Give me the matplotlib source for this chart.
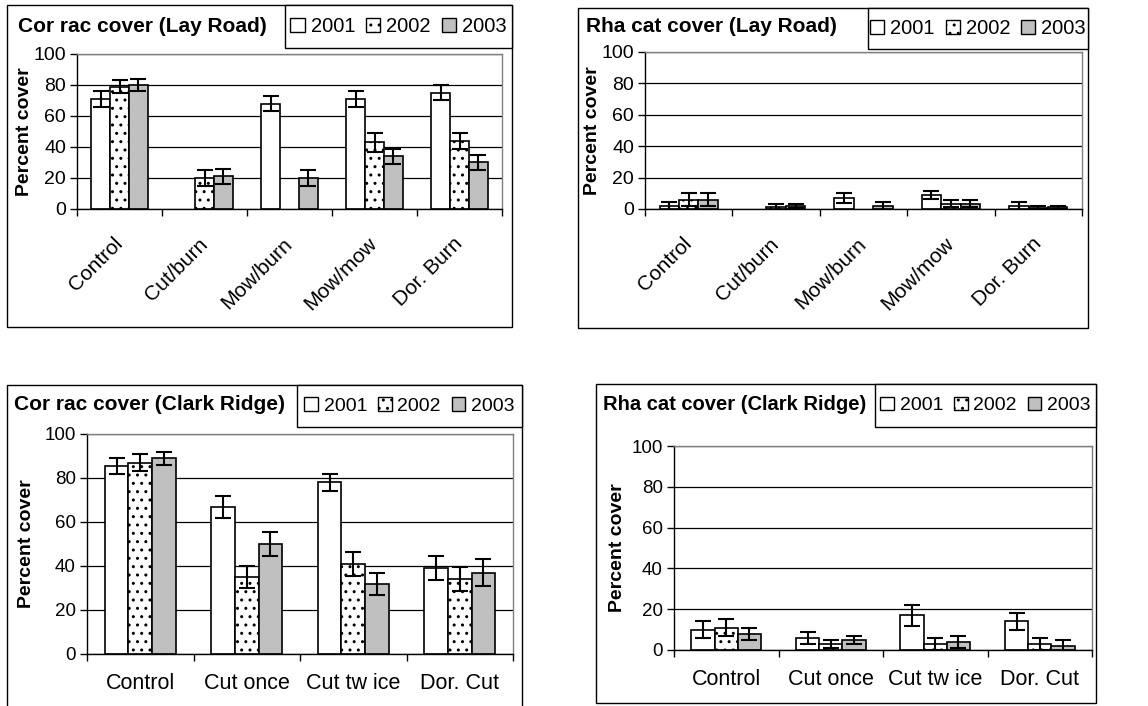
import numpy as np
import matplotlib
matplotlib.use("Agg")
import matplotlib.pyplot as plt
from matplotlib.patches import Rectangle, Patch

plt.rcParams["font.family"] = ["Liberation Sans", "DejaVu Sans"]
plt.rcParams["hatch.linewidth"] = 1.0

W, H = 1148, 706

years = ["2001", "2002", "2003"]
lay_categories = ["Control", "Cut/burn", "Mow/burn", "Mow/mow", "Dor. Burn"]
clark_categories = ["Control", "Cut once", "Cut tw ice", "Dor. Cut"]

# Cor rac cover, Lay Road (mean and error per year)
corrac_lay_2001 = [71, np.nan, 68, 71, 75]
corrac_lay_2002 = [79, 20, np.nan, 43, 44]
corrac_lay_2003 = [80, 21, 20, 34, 30]
corrac_lay_err_2001 = [5, np.nan, 5, 5, 5]
corrac_lay_err_2002 = [4, 5, np.nan, 6, 5]
corrac_lay_err_2003 = [4, 5, 5, 5, 5]

# Rha cat cover, Lay Road
rhacat_lay_2001 = [2, np.nan, 7, 9, 2]
rhacat_lay_2002 = [6, 1, np.nan, 3.5, 0.5]
rhacat_lay_2003 = [6, 2, 2, 3.5, 1]
rhacat_lay_err_2001 = [2.5, np.nan, 3, 2.5, 2.5]
rhacat_lay_err_2002 = [4, 2, np.nan, 2.5, 1.5]
rhacat_lay_err_2003 = [4, 1.5, 2.5, 2.5, 1]

# Cor rac cover, Clark Ridge
corrac_clark_2001 = [85.5, 67, 78, 39]
corrac_clark_2002 = [87, 35, 41, 34]
corrac_clark_2003 = [89, 50, 32, 37]
corrac_clark_err_2001 = [3.5, 5, 4, 5.5]
corrac_clark_err_2002 = [4, 5, 5.5, 5.5]
corrac_clark_err_2003 = [3, 5.5, 5, 6]

# Rha cat cover, Clark Ridge
rhacat_clark_2001 = [10, 6, 17, 14]
rhacat_clark_2002 = [11, 3, 3, 3]
rhacat_clark_2003 = [8, 5, 4, 2]
rhacat_clark_err_2001 = [4, 3, 5, 4]
rhacat_clark_err_2002 = [4, 2, 3, 3]
rhacat_clark_err_2003 = [3, 2, 3, 3]

face_colors = ["white", "white", "#c0c0c0"]
hatches = [None, "..", None]

fig = plt.figure(figsize=(W / 100, H / 100), dpi=100)


def fig_rect(x0, y0, x1, y1):
    # pixel box (top-left origin) -> figure fraction [left, bottom, width, height]
    return [x0 / W, 1 - y1 / H, (x1 - x0) / W, (y1 - y0) / H]


def draw_panel(frame, legend_box, axes_box, title, title_pos, title_size,
               categories, means, errs, rotate, ylabel_pad, tick_size,
               cat_size, leg_size):
    # outer chart frame
    l, b, w, h = fig_rect(*frame)
    fig.patches.append(Rectangle((l, b), w, h, transform=fig.transFigure,
                                 facecolor="none", edgecolor="black", lw=1.0))
    # legend frame
    l, b, w, h = fig_rect(*legend_box)
    fig.patches.append(Rectangle((l, b), w, h, transform=fig.transFigure,
                                 facecolor="white", edgecolor="black", lw=1.0))
    handles = [Patch(facecolor=face_colors[i], edgecolor="black",
                     hatch=hatches[i], lw=1.0, label=years[i]) for i in range(3)]
    fig.legend(handles=handles, loc="center", ncol=3, frameon=False,
               bbox_to_anchor=(l + w / 2, b + h / 2), fontsize=leg_size,
               handlelength=0.7, handleheight=0.7, handletextpad=0.3,
               columnspacing=0.55, borderpad=0)

    fig.text(title_pos[0] / W, 1 - title_pos[1] / H, title, fontsize=title_size,
             fontweight="bold", ha="left", va="center")

    ax = fig.add_axes(fig_rect(*axes_box))
    n = len(categories)
    x = np.arange(n)
    bw = 1 / 4.5
    for i in range(3):
        pos = x + (i - 1) * bw
        ax.bar(pos, means[i], width=bw, color=face_colors[i], edgecolor="black",
               hatch=hatches[i], linewidth=1.2, zorder=2)
        ax.errorbar(pos, means[i], yerr=errs[i], fmt="none", ecolor="black",
                    elinewidth=1.5, capsize=6, capthick=1.5, zorder=3)

    ax.set_xlim(-0.5, n - 0.5)
    ax.set_ylim(0, 100)
    ax.set_yticks(range(0, 101, 20))
    ax.yaxis.grid(True, color="black", lw=0.9)
    ax.set_axisbelow(True)
    ax.set_xticks(np.arange(n + 1) - 0.5)
    ax.set_xticklabels([])
    ax.set_xticks(x, minor=True)
    if rotate:
        ax.set_xticklabels(categories, minor=True, rotation=45, ha="right",
                           va="center", rotation_mode="anchor",
                           fontsize=cat_size)
        ax.tick_params(axis="x", which="minor", length=0, pad=23)
    else:
        ax.set_xticklabels(categories, minor=True, fontsize=cat_size)
        ax.tick_params(axis="x", which="minor", length=0, pad=14)
    ax.tick_params(axis="x", which="major", length=5, width=1, direction="out")
    ax.tick_params(axis="y", length=5, width=1, labelsize=tick_size, pad=3)
    ax.set_ylabel("Percent cover", fontsize=14, fontweight="bold",
                  labelpad=ylabel_pad)
    for s in ax.spines.values():
        s.set_color("black")
        s.set_linewidth(1.0)
    ax.spines["top"].set_color("#808080")
    ax.spines["right"].set_color("#808080")
    return ax


draw_panel((7, 5, 512, 327), (285, 5, 512, 48), (77, 54, 502, 209),
           "Cor rac cover (Lay Road)", (18, 26), 15, lay_categories,
           [corrac_lay_2001, corrac_lay_2002, corrac_lay_2003],
           [corrac_lay_err_2001, corrac_lay_err_2002, corrac_lay_err_2003],
           True, 0, 14, 15, 14.5)

draw_panel((578, 8, 1088, 328), (868, 8, 1088, 49), (645, 52, 1082, 209),
           "Rha cat cover (Lay Road)", (586, 27), 15, lay_categories,
           [rhacat_lay_2001, rhacat_lay_2002, rhacat_lay_2003],
           [rhacat_lay_err_2001, rhacat_lay_err_2002, rhacat_lay_err_2003],
           True, 0, 14, 15, 14.5)

draw_panel((7, 385, 522, 720), (297, 385, 522, 427), (87, 434, 513, 654),
           "Cor rac cover (Clark Ridge)", (14, 405), 15, clark_categories,
           [corrac_clark_2001, corrac_clark_2002, corrac_clark_2003],
           [corrac_clark_err_2001, corrac_clark_err_2002, corrac_clark_err_2003],
           False, 7, 13.5, 15.5, 14)

draw_panel((596, 384, 1096, 703), (875, 384, 1096, 427), (674, 446, 1092, 650),
           "Rha cat cover (Clark Ridge)", (603, 404), 14.5, clark_categories,
           [rhacat_clark_2001, rhacat_clark_2002, rhacat_clark_2003],
           [rhacat_clark_err_2001, rhacat_clark_err_2002, rhacat_clark_err_2003],
           False, 4, 13.5, 15.5, 14)

fig.savefig("out.png", dpi=100)
